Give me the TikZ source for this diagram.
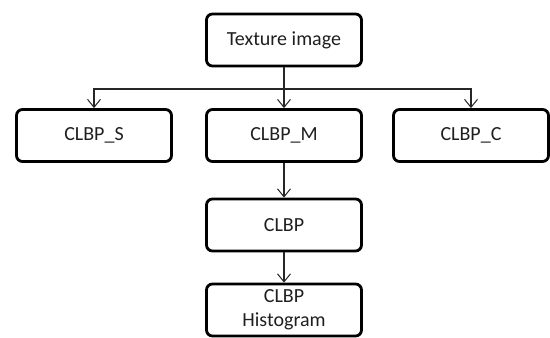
\documentclass[tikz,border=0pt]{standalone}
\usepackage{fontspec}
\setmainfont{Carlito}
\usetikzlibrary{arrows.meta}
\begin{document}
\begin{tikzpicture}[x=1pt,y=-1pt,
  box/.style={draw=black,line width=2.8pt,rounded corners=6pt,minimum width=155pt,minimum height=52pt,inner sep=0pt,font=\fontsize{20}{24}\selectfont,text=black!88,align=center},
  conn/.style={draw=black!85,line width=1.1pt},
  arr/.style={conn,-{Straight Barb[length=8pt,width=13pt,line width=1pt]}}]
\useasboundingbox (0,0) rectangle (550,338);
\node[box] (tex) at (284,40) {Texture image};
\node[box] (S) at (94,135.5) {CLBP\_S};
\node[box] (M) at (284,135.5) {CLBP\_M};
\node[box] (C) at (471,135.5) {CLBP\_C};
\node[box] (L) at (284,225) {CLBP};
\node[box] (H) at (284,310) {CLBP\\Histogram};
\coordinate (j) at (284,89);
\draw[conn] (tex.south) -- (j);
\draw[arr] (j) -| (S.north);
\draw[arr] (j) -| (C.north);
\draw[arr] (j) -- (M.north);
\draw[arr] (M.south) -- (L.north);
\draw[arr] (L.south) -- (H.north);
\end{tikzpicture}
\end{document}
